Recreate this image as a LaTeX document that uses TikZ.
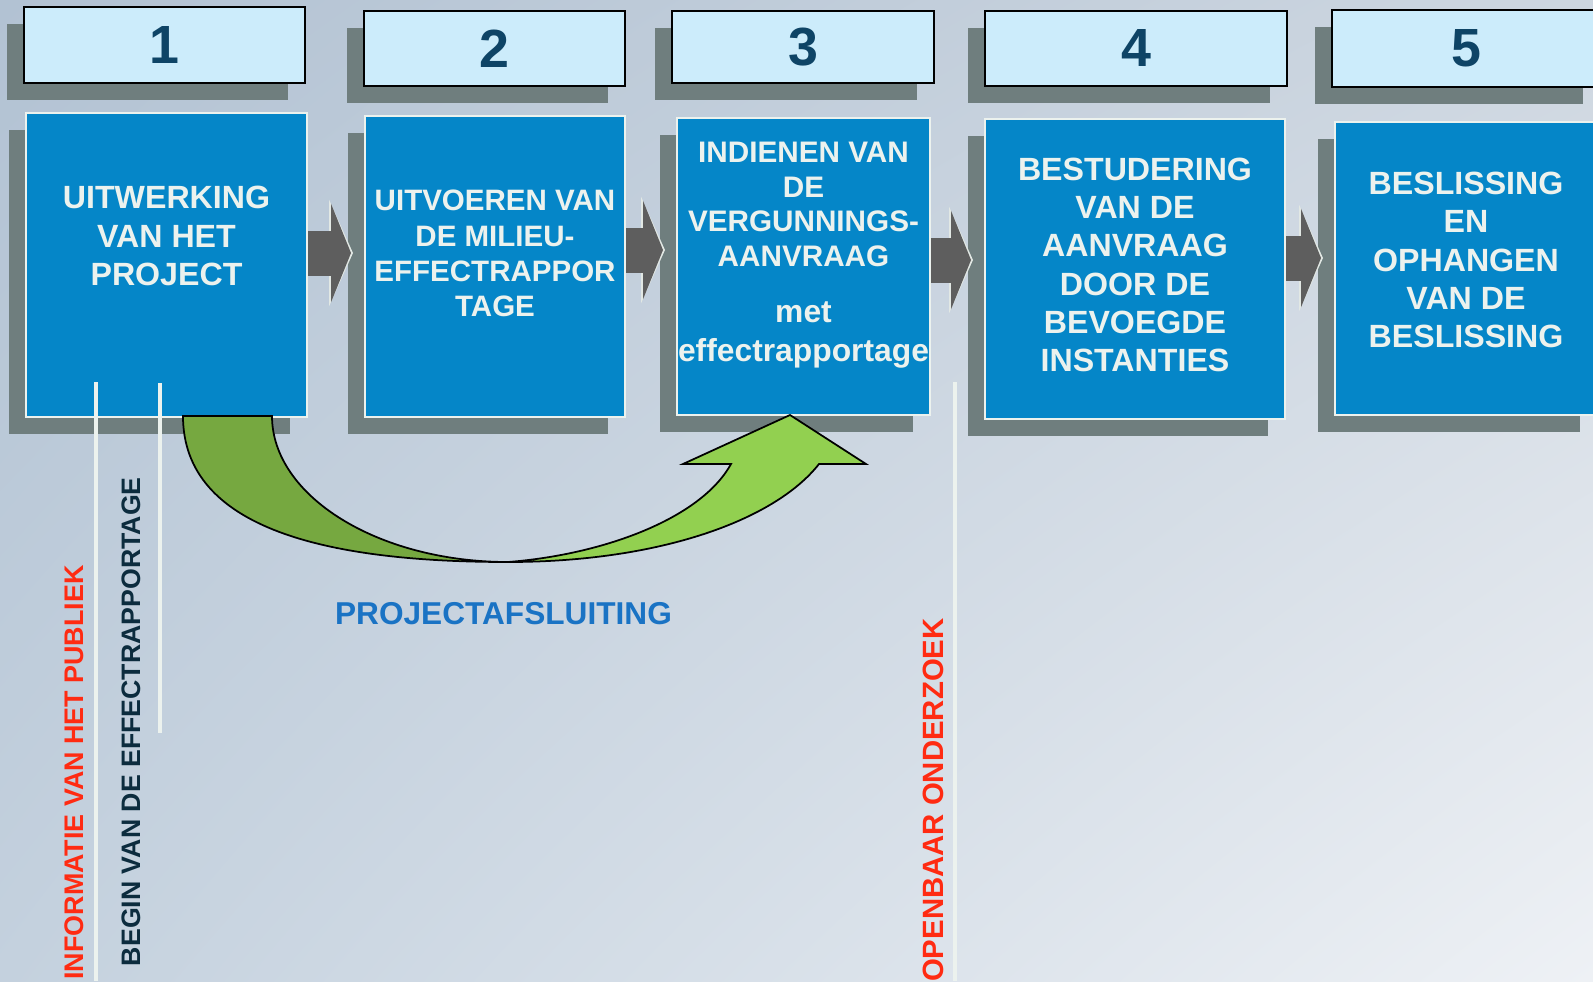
\documentclass[tikz,border=0pt]{standalone}
\usepackage{fontspec}
\setmainfont{Liberation Sans}
\usetikzlibrary{shadows,shadings,arrows.meta,calc}

\definecolor{stageblue}{RGB}{5,134,200}
\definecolor{stageedge}{RGB}{236,242,238}
\definecolor{shadowgray}{RGB}{111,126,126}
\definecolor{numfill}{RGB}{204,236,251}
\definecolor{numtext}{RGB}{14,68,102}
\definecolor{arrowgray}{RGB}{94,94,94}
\definecolor{arrowedge}{RGB}{226,232,228}
\definecolor{darkgreen}{RGB}{118,168,64}
\definecolor{lightgreen}{RGB}{146,208,80}
\definecolor{notered}{RGB}{255,43,18}
\definecolor{notenavy}{RGB}{12,44,62}
\definecolor{closeblue}{RGB}{26,115,196}
\definecolor{bgTL}{RGB}{178,194,211}
\definecolor{bgTR}{RGB}{205,214,224}
\definecolor{bgBL}{RGB}{196,209,222}
\definecolor{bgBR}{RGB}{238,241,245}

\newcommand\pxUnit{0.02cm}
\newcommand\shadowShift{0.34cm}
\newcommand\bigFont{\bfseries\fontsize{18.3}{21.8}\selectfont}
\newcommand\midFont{\bfseries\fontsize{16.8}{20}\selectfont}
\newcommand\sideFont{\bfseries\fontsize{15.3}{17}\selectfont}

\tikzset{
  stagebox/.style={draw=stageedge, fill=stageblue, line width=0.04cm, inner sep=0pt,
    drop shadow={shadow xshift=-\shadowShift, shadow yshift=-\shadowShift, opacity=1, fill=shadowgray}},
  numbox/.style={draw=black, fill=numfill, line width=0.05cm, inner sep=0pt, text=numtext,
    font=\bfseries\fontsize{30.6}{36}\selectfont,
    drop shadow={shadow xshift=-\shadowShift, shadow yshift=-\shadowShift, opacity=1, fill=shadowgray}},
  stagetext/.style={text=stageedge, align=center, inner sep=0pt, font=\bigFont},
  flowarrow/.style={draw=arrowgray, line width=0.9cm, -{Triangle[length=0.4cm, width=1.96cm]}},
  flowedge/.style={draw=arrowedge, line width=0.9cm, -{Triangle[length=0.48cm, width=2.12cm]}},
  greenline/.style={draw=black, line width=0.035cm},
  markline/.style={draw=stageedge, line width=0.07cm},
  sidenote/.style={rotate=90, anchor=base east, inner sep=0pt, font=\sideFont}
}

\begin{document}
\begin{tikzpicture}[x=\pxUnit, y=-\pxUnit]
  \shade[upper left=bgTL, upper right=bgTR, lower left=bgBL, lower right=bgBR] (0,0) rectangle (1593,981);
  \useasboundingbox (0,0) rectangle (1593,981);

  \foreach \n/\cx/\cy/\w/\h in {1/164.5/45/281/76, 2/494.5/48.5/261/75, 3/803/47/262/72, 4/1136/48.5/302/75, 5/1466/48.5/268/77}{
    \node[numbox, minimum width=\w*\pxUnit, minimum height=\h*\pxUnit] (num\n) at (\cx,\cy) {\n};
  }

  \foreach \n/\cx/\cy/\w/\h in {1/166.5/265/281/304, 2/495/266.5/260/301, 3/803.5/266.5/253/297, 4/1135/269/300/300, 5/1466/268.5/262/293}{
    \node[stagebox, minimum width=\w*\pxUnit, minimum height=\h*\pxUnit] (stage\n) at (\cx,\cy) {};
  }

  \node[stagetext] (label1) at (166.5,236) {UITWERKING\\VAN HET\\PROJECT};
  \node[stagetext, font=\midFont] (label2) at (495,253.5) {UITVOEREN VAN\\DE MILIEU-\\EFFECTRAPPOR\\TAGE};
  \node[stagetext, font=\bfseries\fontsize{16.9}{19.8}\selectfont] (label3) at (803.5,204.5) {INDIENEN VAN\\DE\\VERGUNNINGS-\\AANVRAAG};
  \node[stagetext, font=\bfseries\fontsize{18.1}{22.1}\selectfont] (label3b) at (803.5,335) {met\\effectrapportage};
  \node[stagetext] (label4) at (1135,265) {BESTUDERING\\VAN DE\\AANVRAAG\\DOOR DE\\BEVOEGDE\\INSTANTIES};
  \node[stagetext] (label5) at (1466,260) {BESLISSING\\EN\\OPHANGEN\\VAN DE\\BESLISSING};

  \foreach \a/\b/\ay in {1/2/253, 2/3/250, 3/4/260, 4/5/258}{
    \coordinate (row) at (0,\ay);
    \draw[flowedge] (stage\a.east |- row) -- ($(stage\b.west |- row)+(-11,0)$);
    \draw[flowarrow] (stage\a.east |- row) -- ($(stage\b.west |- row)+(-13,0)$);
  }

  \filldraw[greenline, fill=darkgreen] (183,416) -- (272,416) .. controls (272,496) and (378,562) .. (508,562)
    .. controls (330,562) and (183,530) .. cycle;
  \filldraw[greenline, fill=lightgreen] (508,562) .. controls (600,555) and (700,520) .. (731,464)
    -- (683,464) -- (790,415) -- (866,464) -- (819,464) .. controls (775,520) and (660,562) .. cycle;

  \draw[markline] (96,382) -- (96,981);
  \draw[markline] (160,383) -- (160,733);
  \draw[markline] (955,382) -- (955,981);

  \node[sidenote, text=notered] (publiek) at (83,565) {INFORMATIE VAN HET PUBLIEK};
  \node[sidenote, text=notenavy, font=\bfseries\fontsize{15.2}{17}\selectfont] (begin) at (140,477) {BEGIN VAN DE EFFECTRAPPORTAGE};
  \node[sidenote, text=notered, font=\bfseries\fontsize{16.7}{19}\selectfont] (openbaar) at (943,618) {OPENBAAR ONDERZOEK};

  \node[text=closeblue, inner sep=0pt, font=\bfseries\fontsize{18}{21}\selectfont] (afsluiting) at (503.5,614) {PROJECTAFSLUITING};
\end{tikzpicture}
\end{document}
